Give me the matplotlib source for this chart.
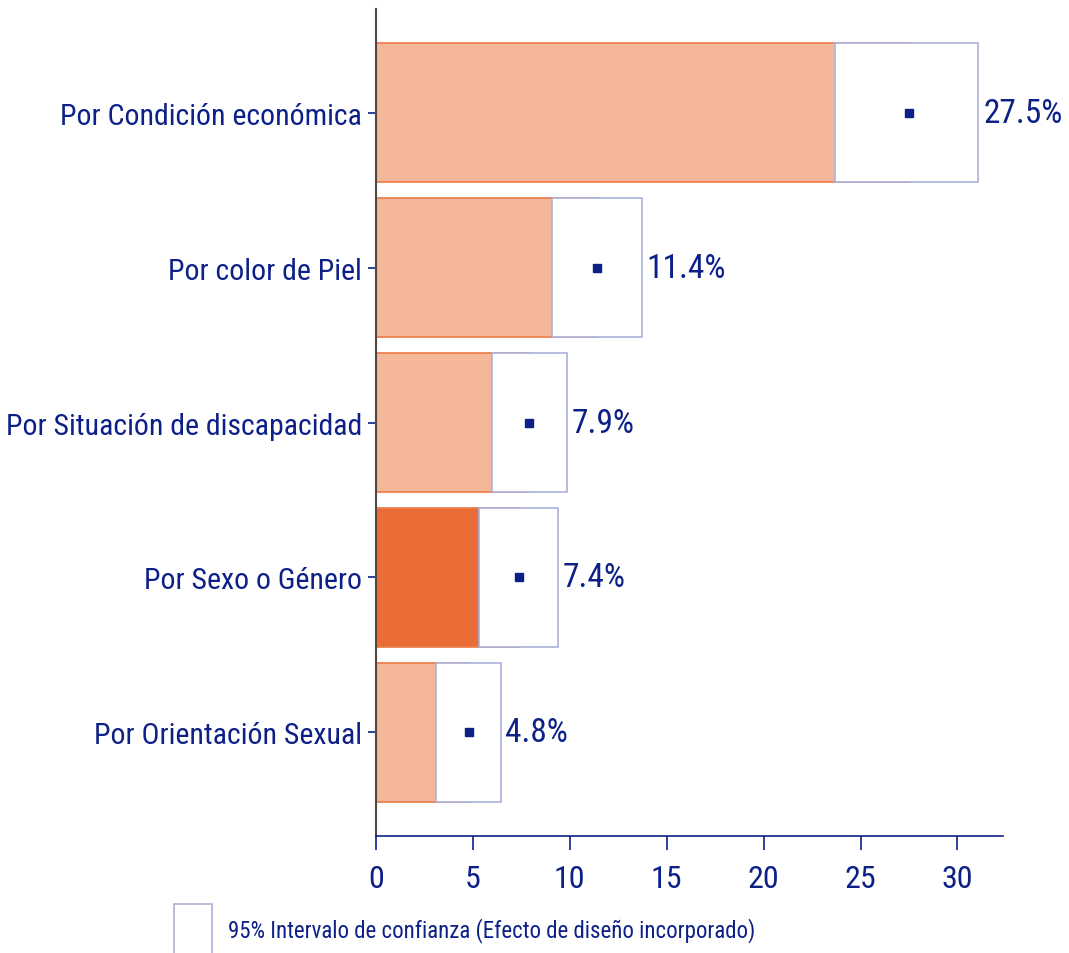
import numpy as np
import matplotlib
matplotlib.use("Agg")
import matplotlib.pyplot as plt
from matplotlib.patches import Rectangle

# fuente angosta tipo Arial Narrow, con respaldo
plt.rcParams['font.family'] = ['Roboto Condensed', 'Archivo Narrow',
                               'Liberation Sans', 'DejaVu Sans']

# datos (de arriba hacia abajo)
categorias = ['Por Condición económica', 'Por color de Piel',
              'Por Situación de discapacidad', 'Por Sexo o Género',
              'Por Orientación Sexual']
estimado = [27.5, 11.4, 7.9, 7.4, 4.8]
ic_inf = [23.7, 9.1, 5.98, 5.33, 3.11]
ic_sup = [31.08, 13.7, 9.85, 9.37, 6.43]
destacado = 'Por Sexo o Género'
etiquetas_x = [0, 5, 10, 15, 20, 25, 30]

azul = '#0c2088'
salmon = '#f4b79a'
naranja = '#ea6d37'
borde_ic = '#a9b0dc'

fig = plt.figure(figsize=(10.69, 9.54), dpi=100)
ax = fig.add_axes([0.3517, 0.1226, 0.5866, 0.8669])

y = np.arange(len(categorias))
colores = [naranja if c == destacado else salmon for c in categorias]

# barra hasta el estimado, luego la caja del intervalo encima
ax.barh(y, estimado, height=0.9, color=colores, edgecolor='#ec7a45',
        linewidth=1.2, zorder=2)
anchos = np.array(ic_sup) - np.array(ic_inf)
ax.barh(y, anchos, left=ic_inf, height=0.9, color='white',
        edgecolor=borde_ic, linewidth=1.2, zorder=3)
ax.plot(estimado, y, linestyle='none', marker='s', markersize=6,
        color=azul, zorder=4)

for yi, hi, v in zip(y, ic_sup, estimado):
    ax.text(hi + 0.25, yi, f'{v:.1f}%', va='center', ha='left',
            fontsize=24, color=azul)

ax.set_yticks(y)
ax.set_yticklabels(categorias, fontsize=21.5, color=azul)
ax.set_xticks(etiquetas_x)
ax.set_xticklabels([str(t) for t in etiquetas_x], fontsize=23, color=azul)
ax.set_xlim(0, 32.35)
ax.set_ylim(4.67, -0.67)

ax.tick_params(axis='y', length=6, width=1.2, color=azul, pad=4)
ax.tick_params(axis='x', length=10, width=1.2, color=azul, pad=10)

for s in ['top', 'right']:
    ax.spines[s].set_visible(False)
ax.spines['left'].set_color('#54453c')
ax.spines['left'].set_linewidth(1.5)
ax.spines['bottom'].set_color(azul)
ax.spines['bottom'].set_linewidth(1.2)

# leyenda
fig.patches.append(Rectangle((174 / 1069, -0.03), 38 / 1069, 0.0814,
                             transform=fig.transFigure, facecolor='white',
                             edgecolor=borde_ic, linewidth=1.2))
fig.text(228 / 1069, 0.0241, '95% Intervalo de confianza (Efecto de diseño incorporado)',
         fontsize=16.5, color=azul, va='center', ha='left')

fig.savefig('out.png', dpi=100)
